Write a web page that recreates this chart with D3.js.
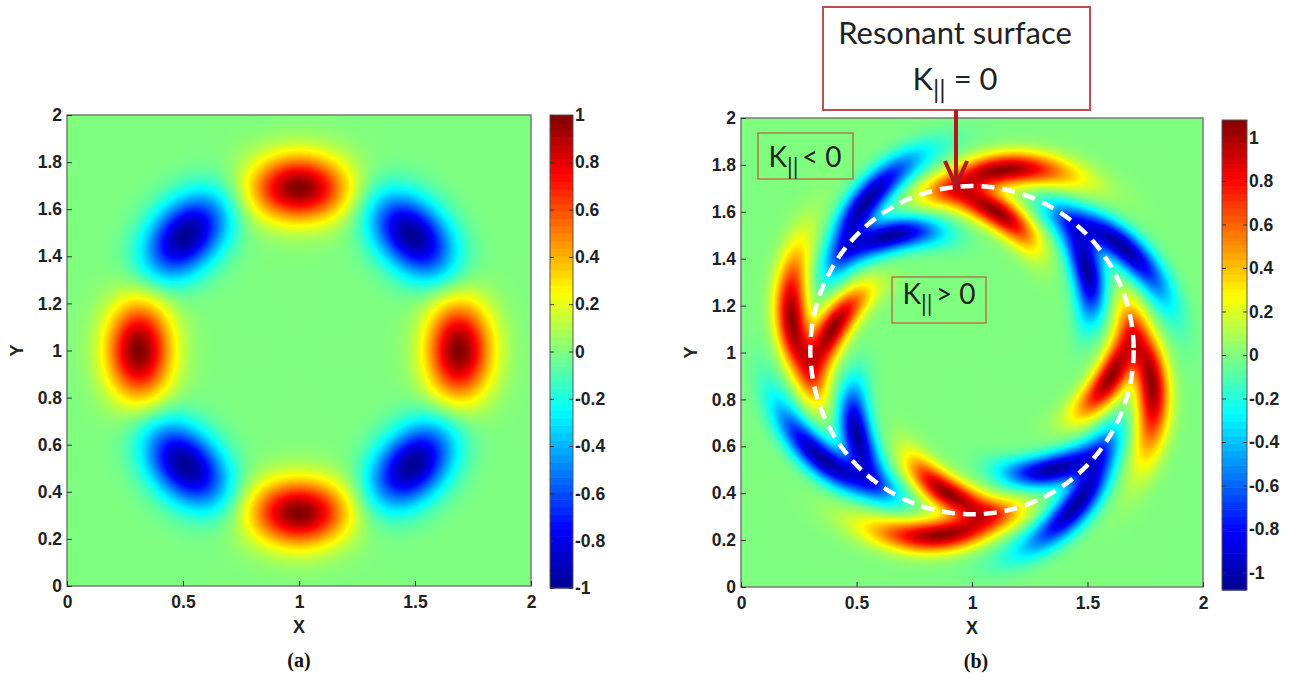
<!doctype html>
<html>
<head>
<meta charset="utf-8" />
<title>Mode structure – without / with resonant surface</title>
<script src="https://cdn.jsdelivr.net/npm/d3@7"></script>
<style>
  html,body{margin:0;background:#fff}
  svg{display:block}
  .tick text{font-family:"Liberation Sans",Arial,sans-serif;font-weight:bold;font-size:17.5px;fill:#222}
  .tick line{stroke:#333}
  .ax-label{font-family:"Liberation Sans",Arial,sans-serif;font-weight:bold;font-size:18px;fill:#222}
  .panel-label{font-family:"Liberation Serif","Times New Roman",serif;font-weight:bold;font-size:20px;fill:#111}
  .note{font-family:Lato,"Open Sans",sans-serif;fill:#222}
</style>
</head>
<body>
<svg id="fig" width="1297" height="684"></svg>
<script>
/* ---------------- data ---------------- */
const xTicks    = [0, 0.5, 1, 1.5, 2];
const yTicks    = [0, 0.2, 0.4, 0.6, 0.8, 1, 1.2, 1.4, 1.6, 1.8, 2];
const cbarTicks = [-1, -0.8, -0.6, -0.4, -0.2, 0, 0.2, 0.4, 0.6, 0.8, 1];

// eight lobes of the m=4 mode: angle (deg) and sign
const lobeAngles = [0, 45, 90, 135, 180, 225, 270, 315];
const lobeSigns  = [1, -1, 1, -1, 1, -1, 1, -1];
// (b): each lobe splits in two prongs, outside (+1) and inside (-1) the surface
const prongSides = [1, -1];

const modeCenter   = [1.0, 1.0];
const ringRadiusA  = 0.69;
const ringRadiusB  = 0.70;
const climA = [-1, 1];
const climB = [-1.08, 1.08];

/* ---------------- helpers ---------------- */
const svg = d3.select('#fig');
const RAD = Math.PI / 180;
const wrap = a => { a = (a + Math.PI) % (2*Math.PI); if (a < 0) a += 2*Math.PI; return a - Math.PI; };

function jet(lo, hi){
  const f = t => lo + t*(hi - lo);
  return d3.scaleLinear()
    .domain([0, 0.125, 0.375, 0.625, 0.875, 1].map(f))
    .range(['#000090','#0000ff','#00ffff','#ffff00','#ff0000','#800000'])
    .clamp(true);
}

// (a) plain lobes on the ring
function fieldA(x, y){
  const dx = x - modeCenter[0], dy = y - modeCenter[1];
  const r = Math.hypot(dx, dy), th = Math.atan2(dy, dx);
  const u = r - ringRadiusA, sr = 0.097, st = 0.15;
  let v = 0;
  for (let i = 0; i < lobeAngles.length; i++){
    const t = wrap(th - lobeAngles[i]*RAD) * ringRadiusA;
    v += lobeSigns[i] * Math.exp(-u*u/(2*sr*sr) - t*t/(2*st*st));
  }
  return v;
}

// (b) sheared chevrons around the resonant surface
function fieldB(x, y){
  const dx = x - modeCenter[0], dy = y - modeCenter[1];
  const r = Math.hypot(dx, dy), th = Math.atan2(dy, dx);
  const u = r - ringRadiusB;
  const slope = 0.30, tTip = 0.18, tCore = -0.12, sAlong = 0.17, sAcross = 0.05, amp = 1.05;
  let v = 0;
  for (let i = 0; i < lobeAngles.length; i++){
    const t = wrap(th - lobeAngles[i]*RAD) * ringRadiusB;
    const along = Math.exp(-(t - tCore)*(t - tCore)/(2*sAlong*sAlong));
    for (const side of prongSides){
      const c = u - side*slope*(tTip - t);
      v += lobeSigns[i] * amp * along * Math.exp(-c*c/(2*sAcross*sAcross));
    }
  }
  return v;
}

function drawHeat(g, xs, ys, field, color){
  const [x0, x1] = xs.range(), [y1, y0] = ys.range();
  const w = Math.round(x1 - x0), h = Math.round(y1 - y0);
  const cv = document.createElement('canvas');
  cv.width = w; cv.height = h;
  const ctx = cv.getContext('2d');
  const img = ctx.createImageData(w, h);
  const dom = color.domain(), lo = dom[0], hi = dom[dom.length - 1];
  const lut = d3.range(512).map(k => d3.rgb(color(lo + (hi - lo)*k/511)));
  for (let j = 0; j < h; j++){
    const yv = ys.invert(y0 + j + 0.5);
    for (let i = 0; i < w; i++){
      const v = field(xs.invert(x0 + i + 0.5), yv);
      const k = Math.max(0, Math.min(511, Math.round((v - lo)/(hi - lo)*511)));
      const c = lut[k], p = (j*w + i)*4;
      img.data[p] = c.r; img.data[p+1] = c.g; img.data[p+2] = c.b; img.data[p+3] = 255;
    }
  }
  ctx.putImageData(img, 0, 0);
  g.append('image').attr('x', x0).attr('y', y0).attr('width', w).attr('height', h)
    .attr('preserveAspectRatio', 'none').attr('href', cv.toDataURL());
}

const fmt = d => String(d);

function panel(cfg){
  const g = svg.append('g');
  const xs = d3.scaleLinear().domain([0, 2]).range([cfg.left, cfg.right]);
  const ys = d3.scaleLinear().domain([0, 2]).range([cfg.bottom, cfg.top]);
  const color = jet(cfg.clim[0], cfg.clim[1]);

  drawHeat(g, xs, ys, cfg.field, color);

  g.append('rect').attr('x', cfg.left).attr('y', cfg.top)
    .attr('width', cfg.right - cfg.left).attr('height', cfg.bottom - cfg.top)
    .attr('fill', 'none').attr('stroke', '#7a7a7a').attr('stroke-width', 1.5);

  const xa = g.append('g').attr('transform', `translate(0,${cfg.bottom})`)
    .call(d3.axisBottom(xs).tickValues(xTicks).tickFormat(fmt)
      .tickSizeInner(-5).tickSizeOuter(0).tickPadding(10));
  const ya = g.append('g').attr('transform', `translate(${cfg.left},0)`)
    .call(d3.axisLeft(ys).tickValues(yTicks).tickFormat(fmt)
      .tickSizeInner(-5).tickSizeOuter(0).tickPadding(5));
  xa.select('.domain').remove(); ya.select('.domain').remove();

  g.append('text').attr('class', 'ax-label').attr('text-anchor', 'middle')
    .attr('x', xs(1)).attr('y', cfg.bottom + 47).text('X');
  g.append('text').attr('class', 'ax-label').attr('text-anchor', 'middle')
    .attr('transform', `translate(${cfg.left - 44},${ys(1)}) rotate(-90)`).text('Y');
  g.append('text').attr('class', 'panel-label').attr('text-anchor', 'middle')
    .attr('x', xs(1) + cfg.labelShift).attr('y', cfg.bottom + 81).text(cfg.label);

  // colorbar: 64 discrete steps like the original colormap
  const cs = d3.scaleLinear().domain(cfg.clim).range([cfg.cbBottom, cfg.cbTop]);
  const steps = d3.range(64);
  const stepH = (cfg.cbBottom - cfg.cbTop) / 64;
  const cb = g.append('g');
  cb.selectAll('rect.step').data(steps).join('rect').attr('class', 'step')
    .attr('x', cfg.cbLeft).attr('width', cfg.cbWidth)
    .attr('y', k => cfg.cbBottom - (k + 1)*stepH).attr('height', stepH + 0.6)
    .attr('fill', k => color(cfg.clim[0] + (k + 0.5)/64*(cfg.clim[1] - cfg.clim[0])));
  cb.append('rect').attr('x', cfg.cbLeft).attr('y', cfg.cbTop)
    .attr('width', cfg.cbWidth).attr('height', cfg.cbBottom - cfg.cbTop)
    .attr('fill', 'none').attr('stroke', '#555').attr('stroke-width', 1);
  const ca = cb.append('g').attr('transform', `translate(${cfg.cbLeft + cfg.cbWidth},0)`)
    .call(d3.axisRight(cs).tickValues(cbarTicks).tickFormat(fmt)
      .tickSizeInner(-4).tickSizeOuter(0).tickPadding(2));
  ca.select('.domain').remove();
  cb.append('g').attr('transform', `translate(${cfg.cbLeft},0)`)
    .call(d3.axisLeft(cs).tickValues(cbarTicks).tickFormat('').tickSizeInner(-4).tickSizeOuter(0))
    .select('.domain').remove();

  return {g, xs, ys};
}

/* ---------------- panel (a) ---------------- */
panel({left: 67, right: 531, top: 115, bottom: 586, clim: climA, field: fieldA,
       label: '(a)', labelShift: 0,
       cbLeft: 550, cbWidth: 23, cbTop: 115, cbBottom: 588});

/* ---------------- panel (b) ---------------- */
const pb = panel({left: 741, right: 1203, top: 118, bottom: 587, clim: climB, field: fieldB,
       label: '(b)', labelShift: 4,
       cbLeft: 1222, cbWidth: 25, cbTop: 120, cbBottom: 590});

// resonant surface, dashed
pb.g.append('ellipse')
  .attr('cx', pb.xs(modeCenter[0])).attr('cy', pb.ys(modeCenter[1] + 0.01))
  .attr('rx', pb.xs(ringRadiusB) - pb.xs(0)).attr('ry', pb.ys(0) - pb.ys(ringRadiusB))
  .attr('fill', 'none').attr('stroke', '#fff').attr('stroke-width', 4.5)
  .attr('stroke-dasharray', '13 8');

// K|| text with subscript bars
function kText(g, x, y, size, rest){
  const t = g.append('text').attr('class', 'note').attr('text-anchor', 'middle')
    .attr('x', x).attr('y', y).attr('font-size', size);
  t.append('tspan').text('K');
  t.append('tspan').attr('font-size', size*0.82).attr('dy', size*0.3).text('||');
  t.append('tspan').attr('dy', -size*0.3).text(rest);
}

// callout box + arrow
pb.g.append('rect').attr('x', 823).attr('y', 7).attr('width', 267).attr('height', 103)
  .attr('fill', '#fff').attr('stroke', '#c0504d').attr('stroke-width', 2);
pb.g.append('text').attr('class', 'note').attr('text-anchor', 'middle')
  .attr('x', 955).attr('y', 44).attr('font-size', 31).text('Resonant surface');
kText(pb.g, 955, 90, 31, ' = 0');
pb.g.append('line').attr('x1', 956).attr('x2', 956).attr('y1', 110).attr('y2', 185)
  .attr('stroke', '#b3171e').attr('stroke-width', 4);
pb.g.append('path').attr('d', 'M945,161 L956,186 L967,161')
  .attr('fill', 'none').attr('stroke', '#b3171e').attr('stroke-width', 4)
  .attr('stroke-linejoin', 'miter');

// region boxes
pb.g.append('rect').attr('x', 758).attr('y', 133).attr('width', 95).attr('height', 46)
  .attr('fill', 'none').attr('stroke', '#b07a45').attr('stroke-width', 1.5);
kText(pb.g, 805, 167, 28, '\u2009< 0');
pb.g.append('rect').attr('x', 892).attr('y', 277).attr('width', 94).attr('height', 46)
  .attr('fill', 'none').attr('stroke', '#b07a45').attr('stroke-width', 1.5);
kText(pb.g, 939, 304, 28, '\u2009> 0');
</script>
</body>
</html>
